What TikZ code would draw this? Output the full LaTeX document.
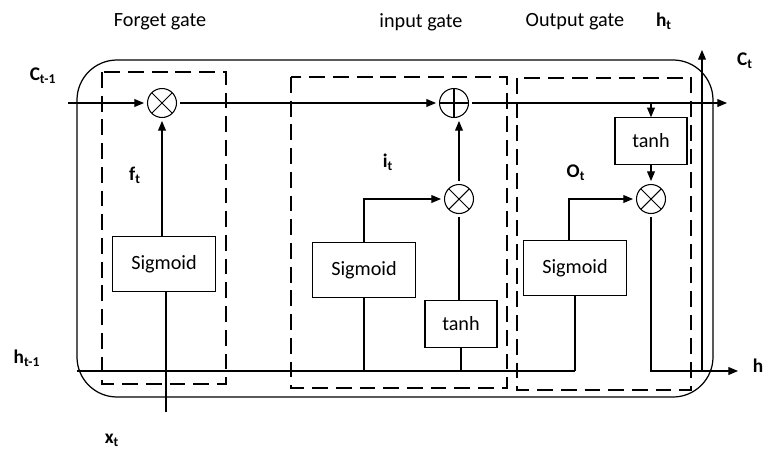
\documentclass[tikz,border=0pt]{standalone}
\usepackage{fontspec}
\setmainfont{Carlito}
\usetikzlibrary{arrows.meta, positioning}

\begin{document}
\begin{tikzpicture}[x=0.02cm, y=-0.02cm, >={Triangle[length=5.5pt,width=4.5pt]},
    every node/.style={font=\fontsize{11.5}{13}\selectfont},
    wire/.style={line width=0.6pt},
    arr/.style={wire, ->},
    gatebox/.style={line width=1.6pt, dash pattern=on 9pt off 4.5pt},
    box/.style={draw, line width=0.6pt, minimum width=2.06cm, minimum height=1.1cm},
    tbox/.style={draw, line width=0.6pt, minimum width=1.44cm, minimum height=0.93cm},
    op/.style={draw, circle, line width=0.6pt, minimum size=0.58cm, inner sep=0pt, outer sep=2pt},
    mul/.style={op, path picture={\draw[line width=0.6pt]
        (path picture bounding box.north east) -- (path picture bounding box.south west)
        (path picture bounding box.north west) -- (path picture bounding box.south east);}},
    add/.style={op, path picture={\draw[line width=0.6pt]
        (path picture bounding box.north) -- (path picture bounding box.south)
        (path picture bounding box.west) -- (path picture bounding box.east);}},
    lbl/.style={font=\fontsize{11}{13}\selectfont\bfseries}]

\useasboundingbox (0,0) rectangle (765,450);

% === Celda ===
\draw[line width=0.7pt, rounded corners=0.8cm] (77,60) rectangle (713,397);

% Cajas de las puertas
\draw[gatebox] (102,72) rectangle (226,384);
\draw[gatebox] (291,77) rectangle (507,388);
\draw[gatebox] (517,78) rectangle (691,390);

% Titulos
\node (tforget) at (160,22) {Forget gate};
\node (tinput) at (421,22) {input gate};
\node (toutput) at (575,22) {Output gate};

% Operaciones
\node[mul] (fx) at (162,103) {};
\node[add] (cp) at (454,103) {};
\node[mul] (ix) at (459,199) {};
\node[mul] (ox) at (651,199) {};

% Bloques
\node[box] (sigf) at (164,264) {Sigmoid};
\node[box] (sigi) at (364,270) {Sigmoid};
\node[box] (sigo) at (575,268) {Sigmoid};
\node[tbox] (tanhi) at (461,324) {tanh};
\node[tbox] (tanho) at (651,141) {tanh};

% Extremos libres
\coordinate (cin) at (68,103);
\coordinate (cout) at (727,103);
\coordinate (hin) at (77,371);
\coordinate (hout) at (738,371);
\coordinate (xin) at (166,412);
\coordinate (htb) at (702,371);
\coordinate (htt) at (702,50);

% Etiquetas
\node[lbl] (lcprev) at (43,76) {C\textsubscript{t-1}};
\node[lbl] (lcnext) at (745,61) {C\textsubscript{t}};
\node[lbl] (lhnext) at (664,21) {h\textsubscript{t}};
\node[lbl] (lh) at (758,366) {h};
\node[lbl] (lhprev) at (27,358) {h\textsubscript{t-1}};
\node[lbl] (lx) at (112,440) {x\textsubscript{t}};
\node[lbl] (lf) at (135,175) {f\textsubscript{t}};
\node[lbl] (li) at (388,162) {i\textsubscript{t}};
\node[lbl] (lo) at (576,173) {O\textsubscript{t}};

% Estado de la celda
\draw[arr] (cin) -- (fx);
\draw[arr] (fx) -- (cp);
\draw[arr] (cp) -- (cout);

% Forget gate
\draw[wire] (xin) -- (xin |- sigf.south);
\draw[arr] (sigf.north -| fx) -- (fx);

% Linea h_{t-1}
\draw[wire] (hin) -- (hin -| sigo.south);

% Input gate
\draw[wire] (sigi.south) -- (sigi.south |- hin);
\draw[wire] (tanhi.south) -- (tanhi.south |- hin);
\draw[arr] (sigi.north) |- (ix);
\draw[wire] (tanhi.north -| ix) -- (ix);
\draw[arr] (ix) -- (ix |- cp.south);

% Output gate
\draw[wire] (sigo.south) -- (sigo.south |- hin);
\draw[arr] ([xshift=-6*0.02cm]sigo.north) |- (ox);
\draw[arr] (cp -| tanho.north) -- (tanho.north);
\draw[arr] (tanho.south) -- (ox);
\draw[arr] (ox) |- (hout);
\draw[arr] (htb) -- (htt);

\end{tikzpicture}
\end{document}
